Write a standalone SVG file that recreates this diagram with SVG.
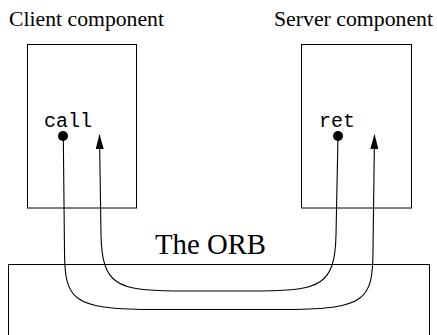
<svg xmlns="http://www.w3.org/2000/svg" width="437" height="335" viewBox="0 0 437 335">
  <defs>
    <style>
      .box { fill: none; stroke: #000; stroke-width: 1; }
      .wire { fill: none; stroke: #000; stroke-width: 1.1; }
      .title { font-family: "Liberation Serif", "Times New Roman", serif; font-size: 21px; fill: #000; }
      .orb { font-family: "Liberation Serif", "Times New Roman", serif; font-size: 29px; fill: #000; }
      .code { font-family: "Liberation Mono", "Courier New", monospace; font-size: 20px; fill: #000; }
      .dot { fill: #000; }
    </style>
    <marker id="arrow" viewBox="0 0 15 8" refX="14" refY="4" markerWidth="15" markerHeight="8" markerUnits="userSpaceOnUse" orient="auto">
      <path d="M0,0 L15,4 L0,8 Z" fill="#000"/>
    </marker>
  </defs>

  <!-- ORB bus, open at the bottom edge -->
  <g id="orb">
    <path class="box" d="M8.5,340 V264.5 H429.5 V340"/>
    <text class="orb" x="155" y="254" textLength="111" lengthAdjust="spacingAndGlyphs">The ORB</text>
  </g>

  <g id="client">
    <text class="title" x="9" y="26" textLength="155" lengthAdjust="spacingAndGlyphs">Client component</text>
    <rect class="box" x="27.5" y="44.5" width="109" height="163.5"/>
    <text class="code" x="44" y="127">call</text>
    <circle class="dot" cx="63" cy="136" r="5"/>
  </g>

  <g id="server">
    <text class="title" x="274" y="26" textLength="159" lengthAdjust="spacingAndGlyphs">Server component</text>
    <rect class="box" x="301.5" y="44.5" width="110" height="163.5"/>
    <text class="code" x="319" y="127">ret</text>
    <circle class="dot" cx="338" cy="136" r="5"/>
  </g>

  <g id="connectors">
    <!-- request: call -> through the ORB -> server -->
    <path class="wire" marker-end="url(#arrow)"
          d="M63.3,136 L64.5,250 C64.5,300 72,309 150,309.5 L288,309.5 C365.5,309 373,300 373,250 L374.5,135"/>
    <!-- reply: ret -> through the ORB -> client -->
    <path class="wire" marker-end="url(#arrow)"
          d="M338,136 L336,235 C335,285 320,290.5 262,291 L175,291 C117,290.5 102,285 101,235 L99.5,135"/>
  </g>
</svg>
